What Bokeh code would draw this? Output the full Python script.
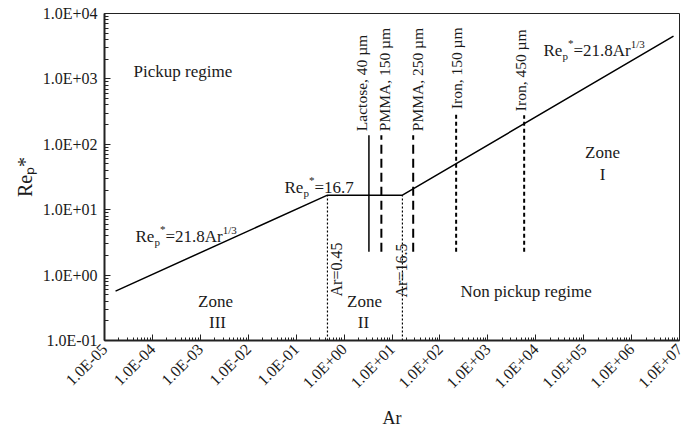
import math
from bokeh.plotting import figure
from bokeh.models import Label, CustomJSTickFormatter, FixedTicker, ColumnDataSource
from bokeh.core.properties import value
from bokeh.embed import file_html
from bokeh.resources import INLINE

# ---------------- data ----------------
curve_ar = [1.7e-5, 0.45, 16.5, 7.5e6]
curve_re = [0.57, 16.7, 16.7, 4500.0]

limit_ar = [0.45, 16.5]
limit_re = [16.7, 16.7]
limit_labels = ["Ar=0.45", "Ar=16.5"]

mat_names = ["Lactose, 40 µm", "PMMA, 150 µm", "PMMA, 250 µm", "Iron, 150 µm", "Iron, 450 µm"]
mat_ar = [3.3, 6.0, 27.7, 218.0, 5730.0]
mat_re_low = [2.27, 2.27, 2.27, 2.27, 2.27]
mat_re_high = [138.0, 138.0, 138.0, 300.0, 279.0]

x_decades = list(range(-5, 8))
y_decades = list(range(-1, 5))

# ---------------- layout / styling ----------------
FONT = "Liberation Serif"
TXT = "#1a1a1a"
W, H = 693, 431
FL, FR, FT, FB = 104, 679, 13, 341  # frame edges in page px

p = figure(width=W, height=H, x_axis_type="log", y_axis_type="log",
           x_range=(10.0 ** x_decades[0], 10.0 ** x_decades[-1]),
           y_range=(10.0 ** y_decades[0], 10.0 ** y_decades[-1]),
           output_backend="svg", toolbar_location=None,
           min_border_left=FL, min_border_right=W - FR,
           min_border_top=FT, min_border_bottom=H - FB)
p.background_fill_color = "white"
p.border_fill_color = "white"
p.outline_line_color = "#222222"
p.outline_line_width = 1
p.grid.visible = False

xt_major = [10.0 ** e for e in x_decades]
xt_minor = [k * 10.0 ** e for e in x_decades[:-1] for k in range(2, 10)]
yt_major = [10.0 ** e for e in y_decades]
yt_minor = [k * 10.0 ** e for e in y_decades[:-1] for k in range(2, 10)]
p.xaxis.ticker = FixedTicker(ticks=xt_major, minor_ticks=xt_minor)
p.yaxis.ticker = FixedTicker(ticks=yt_major, minor_ticks=yt_minor)

fmt_code = """
const e = Math.round(Math.log10(tick));
const a = Math.abs(e);
return "1.0E" + (e < 0 ? "-" : "+") + (a < 10 ? "0" + a : "" + a);
"""
for ax in (p.xaxis, p.yaxis):
    ax.formatter = CustomJSTickFormatter(code=fmt_code)
    ax.axis_line_width = 2
    ax.axis_line_color = "#222222"
    ax.major_tick_in = 6
    ax.major_tick_out = 0
    ax.minor_tick_in = 3
    ax.minor_tick_out = 0
    ax.major_tick_line_color = "#222222"
    ax.minor_tick_line_color = "#222222"
    ax.major_label_text_font = FONT
    ax.major_label_text_font_size = "16px"
    ax.major_label_text_color = TXT
    ax.axis_label_text_font = FONT
    ax.axis_label_text_font_style = "normal"
    ax.axis_label_text_color = TXT
p.yaxis.minor_tick_in = 4
p.xaxis.major_label_orientation = math.pi / 4
p.xaxis.major_label_standoff = 6
p.yaxis.major_label_standoff = 7

p.xaxis.axis_label = "Ar"
p.xaxis.axis_label_text_font_size = "18px"
p.xaxis.axis_label_text_align = "left"
p.xaxis.axis_label_standoff = 8

p.yaxis.axis_label = "Reₚ*"
p.yaxis.axis_label_text_font_size = "20px"
p.yaxis.axis_label_standoff = 4

# ---------------- marks ----------------
p.line(curve_ar, curve_re, line_color="black", line_width=1.5)

p.segment(x0=limit_ar, y0=[10.0 ** y_decades[0]] * len(limit_ar), x1=limit_ar, y1=limit_re,
          line_color="black", line_width=1.2, line_dash="2 2")

mat_styles = [("solid", 1.5), ("9 5", 2), ("9 5", 2), ("4 3", 2), ("4 3", 2)]
for i in range(len(mat_names)):
    dash, lw = mat_styles[i]
    p.segment(x0=[mat_ar[i]], y0=[mat_re_low[i]], x1=[mat_ar[i]], y1=[mat_re_high[i]],
              line_color="black", line_width=lw, line_dash=dash)

msrc = ColumnDataSource(dict(x=mat_ar, y=mat_re_high, t=mat_names,
                             xo=[-7, 3, 4, 0, -4]))
p.text(x="x", y="y", text="t", source=msrc, angle=math.pi / 2,
       x_offset="xo", y_offset=-4,
       text_align="left", text_baseline="middle",
       text_font=value(FONT), text_font_size="15.5px", text_color=TXT)

# ---------------- text helpers ----------------
EM = {"R": .667, "e": .444, "p": .5, "*": .5, "=": .564, "1": .5, "6": .5, ".": .25,
      "7": .5, "2": .5, "8": .5, "A": .722, "r": .333, "/": .278, "3": .5}


def tw(s, size):
    return sum(EM.get(c, 0.5) for c in s) * size


def lab(px, py, text, size, angle=0.0, align="left", baseline="alphabetic", bg=None):
    kw = {}
    if bg:
        kw["background_fill_color"] = bg
    p.add_layout(Label(x=px - FL, y=FB - py, x_units="screen", y_units="screen",
                       text=text, angle=angle, text_font=FONT,
                       text_font_size=f"{size}px", text_color=TXT,
                       text_align=align, text_baseline=baseline, **kw))


def rich(px, py, pieces):
    adv = 0.0
    for text, size, shift in pieces:
        lab(px + adv, py - shift, text, size)
        adv += tw(text, size)


BIG, SMALL = 17, 11
rich(284, 188, [("Re", BIG, 0), ("p", SMALL, -5), ("*", SMALL, 8), ("=16.7", BIG, 0)])
rich(135, 237, [("Re", BIG, 0), ("p", SMALL, -5), ("*", SMALL, 8), ("=21.8Ar", BIG, 0),
                ("1/3", SMALL, 7)])
rich(543, 51, [("Re", BIG, 0), ("p", SMALL, -5), ("*", SMALL, 8), ("=21.8Ar", BIG, 0),
               ("1/3", SMALL, 7)])

# regime / zone labels
lab(133, 72, "Pickup regime", 17)
lab(460, 292, "Non pickup regime", 17)
lab(215, 302, "Zone", 17, align="center")
lab(217, 323, "III", 17, align="center")
lab(364, 302, "Zone", 17, align="center")
lab(363, 323, "II", 17, align="center")
lab(602, 153, "Zone", 17, align="center")
lab(602, 175, "I", 17, align="center")

# limit labels (rotated)
lab(336, 297, limit_labels[0], 16, angle=math.pi / 2, bg="white")
lab(401, 298, limit_labels[1], 16, angle=math.pi / 2)

open("out.html", "w").write(file_html(p, INLINE))
